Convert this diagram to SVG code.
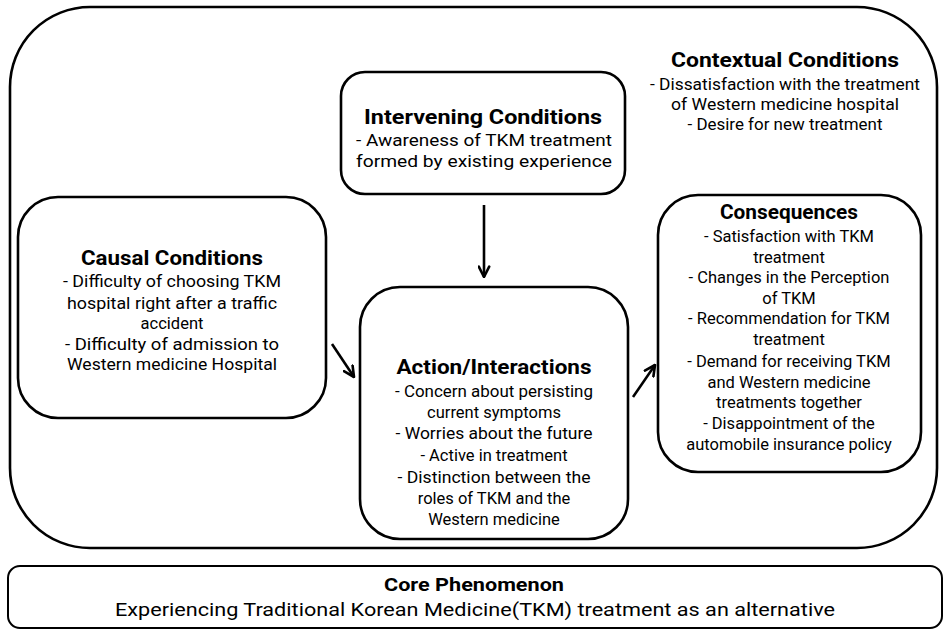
<svg xmlns="http://www.w3.org/2000/svg" width="946" height="632" viewBox="0 0 946 632">
<style>
.box{fill:#fff;stroke:#000;stroke-width:2.6}
.t{font-family:Roboto,"Open Sans",sans-serif;font-size:21px;font-weight:bold;text-anchor:middle;fill:#000}
.b{font-family:Roboto,"Open Sans",sans-serif;font-size:16.5px;text-anchor:middle;fill:#000}
.c{font-family:Roboto,"Open Sans",sans-serif;font-size:19px;text-anchor:middle;fill:#000}
.ct{font-family:Roboto,"Open Sans",sans-serif;font-size:19px;font-weight:bold;text-anchor:middle;fill:#000}
.arrow{stroke:#000;stroke-width:2.6;fill:none;marker-end:url(#head)}
</style>
<defs>
<marker id="head" viewBox="0 0 10 10" refX="9" refY="5" markerWidth="13" markerHeight="13" markerUnits="userSpaceOnUse" orient="auto">
<path d="M1,1 L9,5 L1,9" fill="none" stroke="#000" stroke-width="2" stroke-linecap="round" stroke-linejoin="round"/>
</marker>
</defs>
<g id="outer">
<rect class="box" x="10" y="7" width="927" height="541" rx="80" ry="80"/>
</g>
<g id="contextual">
<text class="t" x="785" y="67" textLength="228" lengthAdjust="spacingAndGlyphs">Contextual Conditions</text>
<text class="b" x="785" y="90" textLength="270" lengthAdjust="spacingAndGlyphs">- Dissatisfaction with the treatment</text>
<text class="b" x="785" y="110" textLength="228" lengthAdjust="spacingAndGlyphs">of Western medicine hospital</text>
<text class="b" x="785" y="130" textLength="195" lengthAdjust="spacingAndGlyphs">- Desire for new treatment</text>
</g>
<g id="intervening">
<rect class="box" x="341" y="72" width="284" height="122" rx="24" ry="24"/>
<text class="t" x="483" y="124" textLength="238" lengthAdjust="spacingAndGlyphs">Intervening Conditions</text>
<text class="b" x="484" y="146" textLength="256" lengthAdjust="spacingAndGlyphs">- Awareness of TKM treatment</text>
<text class="b" x="484" y="167" textLength="256" lengthAdjust="spacingAndGlyphs">formed by existing experience</text>
</g>
<g id="causal">
<rect class="box" x="18" y="197" width="308" height="221" rx="40" ry="40"/>
<text class="t" x="172" y="265" textLength="182" lengthAdjust="spacingAndGlyphs">Causal Conditions</text>
<text class="b" x="172" y="287" textLength="218" lengthAdjust="spacingAndGlyphs">- Difficulty of choosing TKM</text>
<text class="b" x="172" y="309" textLength="210" lengthAdjust="spacingAndGlyphs">hospital right after a traffic</text>
<text class="b" x="172" y="329">accident</text>
<text class="b" x="172" y="350" textLength="214" lengthAdjust="spacingAndGlyphs">- Difficulty of admission to</text>
<text class="b" x="172" y="370" textLength="210" lengthAdjust="spacingAndGlyphs">Western medicine Hospital</text>
</g>
<g id="action">
<rect class="box" x="360" y="287" width="268" height="252" rx="40" ry="40"/>
<text class="t" x="494" y="374" textLength="195" lengthAdjust="spacingAndGlyphs">Action/Interactions</text>
<text class="b" x="494" y="397" textLength="198" lengthAdjust="spacingAndGlyphs">- Concern about persisting</text>
<text class="b" x="494" y="418">current symptoms</text>
<text class="b" x="494" y="439" textLength="197" lengthAdjust="spacingAndGlyphs">- Worries about the future</text>
<text class="b" x="494" y="461">- Active in treatment</text>
<text class="b" x="494" y="483" textLength="193" lengthAdjust="spacingAndGlyphs">- Distinction between the</text>
<text class="b" x="494" y="504">roles of TKM and the</text>
<text class="b" x="494" y="525">Western medicine</text>
</g>
<g id="consequences">
<rect class="box" x="658" y="195" width="263" height="277" rx="40" ry="40"/>
<text class="t" x="789" y="219" textLength="138" lengthAdjust="spacingAndGlyphs">Consequences</text>
<text class="b" x="789" y="242">- Satisfaction with TKM</text>
<text class="b" x="789" y="263">treatment</text>
<text class="b" x="789" y="283">- Changes in the Perception</text>
<text class="b" x="789" y="304">of TKM</text>
<text class="b" x="789" y="324">- Recommendation for TKM</text>
<text class="b" x="789" y="345">treatment</text>
<text class="b" x="789" y="367">- Demand for receiving TKM</text>
<text class="b" x="789" y="388">and Western medicine</text>
<text class="b" x="789" y="408">treatments together</text>
<text class="b" x="789" y="429">- Disappointment of the</text>
<text class="b" x="789" y="450">automobile insurance policy</text>
</g>
<g id="core">
<rect x="8" y="566" width="934" height="62" rx="12" ry="12" fill="#fff" stroke="#000" stroke-width="2"/>
<text class="ct" x="474" y="591" textLength="180" lengthAdjust="spacingAndGlyphs">Core Phenomenon</text>
<text class="c" x="475" y="616" textLength="720" lengthAdjust="spacingAndGlyphs">Experiencing Traditional Korean Medicine(TKM) treatment as an alternative</text>
</g>
<g id="connectors">
<path class="arrow" d="M484,205 L484,277"/>
<path class="arrow" d="M332,344 L354,377"/>
<path class="arrow" d="M633,397 L655,365"/>
</g>
</svg>
